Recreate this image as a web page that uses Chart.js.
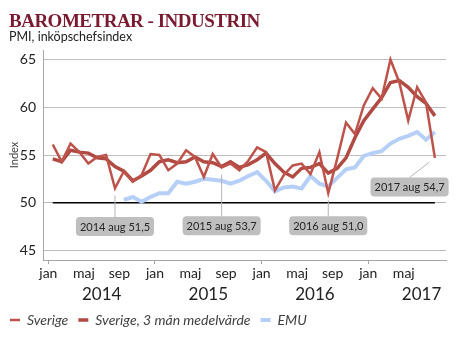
<!DOCTYPE html>
<html>
<head>
<meta charset="utf-8">
<script src="https://cdn.jsdelivr.net/npm/chart.js@4.4.0/dist/chart.umd.min.js"></script>
<style>
    html, body { margin: 0; padding: 0; background: #fff; }
    #wrap { position: relative; width: 467px; height: 342px; overflow: hidden; }
    canvas { position: absolute; left: 0; top: 0; }
    #title { position: absolute; left: 9px; top: 10px; line-height: 1; font: bold 19px "Liberation Serif", serif; color: #7a1a30; letter-spacing: -0.5px; white-space: nowrap; }
    #sub { position: absolute; left: 9px; top: 29px; line-height: 1; font: 12.5px Lato, sans-serif; color: #222; white-space: nowrap; }
</style>
</head>
<body>
<div id="wrap">
    <canvas id="chart" width="467" height="342"></canvas>
    <div id="title">BAROMETRAR - INDUSTRIN</div>
    <div id="sub">PMI, inköpschefsindex</div>
</div>
<script>
// Chart data, jan 2014 - aug 2017
const monthNames = ['jan', 'feb', 'mar', 'apr', 'maj', 'jun', 'jul', 'aug', 'sep', 'okt', 'nov', 'dec'];
const years = ['2014', '2015', '2016', '2017'];
const monthTicks = [0, 4, 8, 12, 16, 20, 24, 28, 32, 36, 40];
const yTicks = [45, 50, 55, 60, 65];

const sverige = [
    56.1, 54.3, 56.2, 55.3, 54.1, 54.8, 55.0, 51.5, 53.3, 52.2, 52.9, 55.1,
    55.0, 53.4, 54.1, 55.5, 54.8, 52.7, 55.1, 53.7, 54.1, 53.4, 54.4, 55.8,
    55.3, 51.3, 52.9, 53.9, 54.1, 53.0, 55.3, 51.0, 54.6, 58.4, 57.2, 60.2,
    62.0, 60.9, 65.0, 62.6, 58.6, 62.1, 60.5, 54.7
];
const sverigeAvg = [
    54.6, 54.3, 55.5, 55.3, 55.2, 54.7, 54.6, 53.8, 53.3, 52.3, 52.8, 53.4,
    54.3, 54.5, 54.2, 54.3, 54.8, 54.3, 54.2, 53.8, 54.3, 53.7, 54.0, 54.5,
    55.2, 54.1, 53.2, 52.7, 53.6, 53.7, 54.1, 53.1, 53.6, 54.7, 56.8, 58.6,
    59.8, 61.0, 62.6, 62.8, 62.1, 61.1, 60.4, 59.1
];
const emu = [
    null, null, null, null, null, null, null, null, 50.3, 50.6, 50.1, 50.6,
    51.0, 51.0, 52.2, 52.0, 52.2, 52.5, 52.4, 52.3, 52.0, 52.3, 52.8, 53.2,
    52.3, 51.2, 51.6, 51.7, 51.5, 52.8, 52.0, 51.7, 52.6, 53.5, 53.7, 54.9,
    55.2, 55.4, 56.2, 56.7, 57.0, 57.4, 56.6, 57.4
];
const threshold = 50;
const calloutMonths = [7, 19, 31, 43];

const toPoints = arr => arr.map((v, i) => ({ x: i + 0.5, y: v }));

// grey callout boxes with a leader line to the point
const calloutPlugin = {
    id: 'callouts',
    afterDatasetsDraw(chart, args, opts) {
        const { ctx } = chart;
        const x = chart.scales.x, y = chart.scales.y;
        ctx.save();
        ctx.font = '11px Lato, sans-serif';
        ctx.textAlign = 'center';
        ctx.textBaseline = 'middle';
        opts.items.forEach(item => {
            const i = item.index;
            const v = sverige[i];
            const text = years[Math.floor(i / 12)] + ' ' + monthNames[i % 12] + ' ' + v.toFixed(1).replace('.', ',');
            const px = x.getPixelForValue(i + 0.5), py = y.getPixelForValue(v);
            const bx = x.getPixelForValue(i + 0.5 + item.dx), by = y.getPixelForValue(item.level);
            const w = ctx.measureText(text).width + 8, h = 19;
            const tx = bx, ty = by - h / 2;
            const len = Math.hypot(tx - px, ty - py);
            ctx.strokeStyle = '#b5b5b5';
            ctx.lineWidth = 1;
            ctx.beginPath();
            ctx.moveTo(px + (tx - px) / len * 7, py + (ty - py) / len * 7);
            ctx.lineTo(tx, ty);
            ctx.stroke();
            ctx.fillStyle = '#bfbfbf';
            ctx.beginPath();
            ctx.roundRect(bx - w / 2, by - h / 2, w, h, 4);
            ctx.fill();
            ctx.fillStyle = '#262626';
            ctx.fillText(text, bx, by + 0.5);
        });
        ctx.restore();
    }
};

Chart.defaults.font.family = 'Lato, sans-serif';
Chart.defaults.color = '#222';

const ctx = document.getElementById('chart').getContext('2d');
new Chart(ctx, {
    type: 'line',
    data: {
        datasets: [
            {
                label: 'Sverige',
                data: toPoints(sverige),
                borderColor: '#bd534b',
                borderWidth: 2.5,
                order: 1
            },
            {
                label: 'Sverige, 3 mån medelvärde',
                data: toPoints(sverigeAvg),
                borderColor: '#b04a42',
                borderWidth: 3.5,
                order: 2
            },
            {
                label: 'EMU',
                data: toPoints(emu),
                borderColor: '#b6cff7',
                borderWidth: 4,
                order: 3
            },
            {
                label: 'threshold',
                data: toPoints(sverige.map(() => threshold)),
                borderColor: '#000',
                borderWidth: 1.5,
                order: 4
            }
        ]
    },
    options: {
        responsive: false,
        animation: false,
        devicePixelRatio: 1,
        elements: { point: { radius: 0 }, line: { tension: 0, borderCapStyle: 'butt' } },
        layout: { padding: { top: 50, right: 21, left: 0, bottom: 5 } },
        scales: {
            x: {
                type: 'linear',
                min: -0.6,
                max: 44.75,
                weight: 0,
                afterBuildTicks: s => { s.ticks = monthTicks.map(v => ({ value: v })); },
                afterFit: s => { s.height = 24; },
                ticks: {
                    font: { size: 14 },
                    padding: 1,
                    maxRotation: 0,
                    autoSkip: false,
                    callback: v => monthNames[v % 12]
                },
                grid: {
                    drawOnChartArea: false,
                    tickLength: 4,
                    tickColor: c => (c.tick && c.tick.value % 12 === 0) ? '#a6a6a6' : 'rgba(0,0,0,0)'
                },
                border: { color: '#a6a6a6' }
            },
            year: {
                type: 'linear',
                position: 'bottom',
                axis: 'x',
                min: -0.6,
                max: 44.75,
                weight: 1,
                afterBuildTicks: s => { s.ticks = years.map((yr, k) => ({ value: k * 12 + 6 })); },
                afterFit: s => { s.height = 19; },
                ticks: {
                    font: { size: 17 },
                    padding: 0,
                    maxRotation: 0,
                    autoSkip: false,
                    callback: v => years[Math.floor(v / 12)]
                },
                grid: { display: false, drawTicks: false },
                border: { display: false }
            },
            y: {
                min: 44,
                max: 66,
                afterBuildTicks: s => { s.ticks = yTicks.map(v => ({ value: v })); },
                afterFit: s => { s.width = 43; },
                ticks: { font: { size: 14 }, padding: 7 },
                grid: { color: '#bdbdbd', drawTicks: false },
                border: { color: '#a6a6a6' },
                title: {
                    display: true,
                    text: 'Index',
                    font: { size: 11 },
                    color: '#444',
                    padding: { top: 8, bottom: 0 }
                }
            }
        },
        plugins: {
            legend: {
                position: 'bottom',
                align: 'start',
                labels: {
                    usePointStyle: true,
                    pointStyle: 'line',
                    pointStyleWidth: 10,
                    padding: 10,
                    color: '#404040',
                    font: { size: 14, style: 'italic' },
                    filter: item => item.text !== 'threshold'
                }
            },
            tooltip: { enabled: false },
            callouts: {
                items: [
                    { index: calloutMonths[0], dx: 0, level: 47.5 },
                    { index: calloutMonths[1], dx: 0, level: 47.6 },
                    { index: calloutMonths[2], dx: 0, level: 47.6 },
                    { index: calloutMonths[3], dx: -2.85, level: 51.65 }
                ]
            }
        }
    },
    plugins: [calloutPlugin]
});
</script>
</body>
</html>
